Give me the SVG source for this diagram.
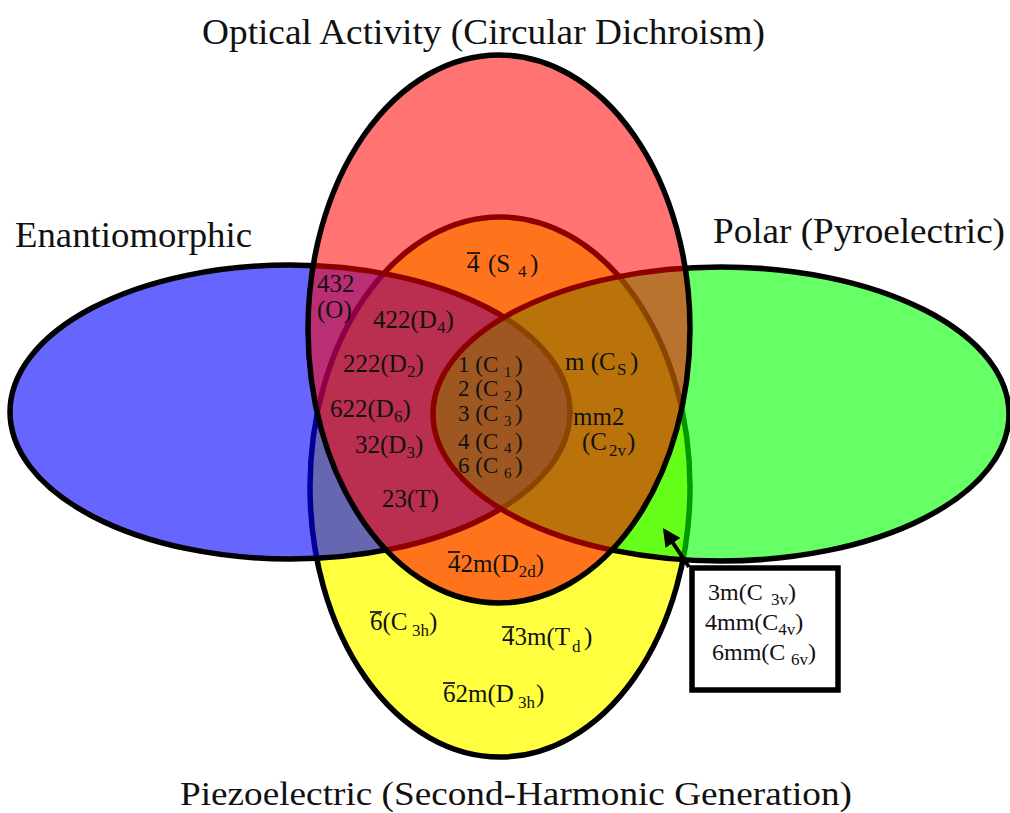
<svg xmlns="http://www.w3.org/2000/svg" width="1010" height="813" viewBox="0 0 1010 813">
<style>
.e{stroke:#000;stroke-width:5.5}
.t{font-family:"Liberation Serif","Times New Roman",serif;font-size:25px;fill:#111}
.c{font-size:23px}
.s{font-size:17px}
.cs{font-size:15px}
.title{font-family:"Liberation Serif","Times New Roman",serif;font-size:35px;fill:#111}
.bar{stroke:#111;stroke-width:1.7}
</style>
<defs>
<marker id="ah" viewBox="0 0 10 10" refX="8" refY="5" markerWidth="4.5" markerHeight="4.5" orient="auto" markerUnits="strokeWidth">
<path d="M0,0 L10,5 L0,10 z" fill="#000"/>
</marker>
</defs>
<rect width="1010" height="813" fill="#fff"/>
<g id="sets">
<g id="piezo"><ellipse class="e" cx="500" cy="487" rx="190" ry="270" fill="#ffff40"/></g>
<g id="enantio"><ellipse class="e" cx="290" cy="412" rx="280" ry="147" fill="#0000ff" fill-opacity="0.6"/></g>
<g id="polar"><ellipse class="e" cx="721" cy="414" rx="288" ry="147" fill="#00ff00" fill-opacity="0.6"/></g>
<g id="optical"><ellipse class="e" cx="499" cy="329" rx="191" ry="274" fill="#ff0000" fill-opacity="0.55"/></g>
</g>
<g id="titles">
<text class="title" x="202" y="44" textLength="563" lengthAdjust="spacingAndGlyphs">Optical Activity (Circular Dichroism)</text>
<text class="title" x="15" y="247" textLength="237" lengthAdjust="spacingAndGlyphs">Enantiomorphic</text>
<text class="title" x="713" y="243" textLength="292" lengthAdjust="spacingAndGlyphs">Polar (Pyroelectric)</text>
<text class="title" x="180" y="805" style="font-size:33px" textLength="672" lengthAdjust="spacingAndGlyphs">Piezoelectric (Second-Harmonic Generation)</text>
</g>
<g id="labels">
<g id="S4"><text class="t" x="467" y="272">4<tspan x="488">(S</tspan><tspan class="s" x="518" dy="5">4</tspan><tspan x="530" dy="-5">)</tspan></text><line class="bar" x1="467" y1="253" x2="480" y2="253"/></g>
<g id="O"><text class="t" x="317" y="292">432</text><text class="t" x="317" y="318">(O)</text></g>
<g id="D4"><text class="t" x="373" y="328">422(D<tspan class="s" dy="5">4</tspan><tspan dy="-5">)</tspan></text></g>
<g id="D2"><text class="t" x="343" y="372">222(D<tspan class="s" dy="5">2</tspan><tspan dy="-5">)</tspan></text></g>
<g id="D6"><text class="t" x="330" y="417">622(D<tspan class="s" dy="5">6</tspan><tspan dy="-5">)</tspan></text></g>
<g id="D3"><text class="t" x="355" y="453">32(D<tspan class="s" dy="5">3</tspan><tspan dy="-5">)</tspan></text></g>
<g id="T"><text class="t" x="382" y="507">23(T)</text></g>
<g id="C1"><text class="t c" x="458" y="372">1 (C<tspan class="cs" x="504" dy="5">1</tspan><tspan x="515" dy="-5">)</tspan></text></g>
<g id="C2"><text class="t c" x="458" y="396">2 (C<tspan class="cs" x="504" dy="5">2</tspan><tspan x="515" dy="-5">)</tspan></text></g>
<g id="C3"><text class="t c" x="458" y="421">3 (C<tspan class="cs" x="504" dy="5">3</tspan><tspan x="515" dy="-5">)</tspan></text></g>
<g id="C4"><text class="t c" x="458" y="449">4 (C<tspan class="cs" x="504" dy="4">4</tspan><tspan x="515" dy="-4">)</tspan></text></g>
<g id="C6"><text class="t c" x="458" y="473">6 (C<tspan class="cs" x="504" dy="5">6</tspan><tspan x="515" dy="-5">)</tspan></text></g>
<g id="Cs"><text class="t" x="565" y="370">m (C<tspan class="s" x="617" dy="5">S</tspan><tspan x="630" dy="-5">)</tspan></text></g>
<g id="C2v"><text class="t" x="573" y="425">mm2</text><text class="t" x="582" y="450">(C<tspan class="s" x="609" dy="6">2v</tspan><tspan x="627" dy="-6">)</tspan></text></g>
<g id="D2d"><text class="t" x="448" y="572">42m(D<tspan class="s" dy="5">2d</tspan><tspan dy="-5">)</tspan></text><line class="bar" x1="448" y1="552" x2="460" y2="552"/></g>
<g id="C3h"><text class="t" x="370" y="630">6(C<tspan class="s" x="412" dy="6">3h</tspan><tspan x="429" dy="-6">)</tspan></text><line class="bar" x1="370" y1="612" x2="382" y2="612"/></g>
<g id="Td"><text class="t" x="502" y="645">43m(T<tspan class="s" x="572" dy="7">d</tspan><tspan x="584" dy="-7">)</tspan></text><line class="bar" x1="502" y1="627" x2="514" y2="627"/></g>
<g id="D3h"><text class="t" x="443" y="702">62m(D<tspan class="s" x="518" dy="6">3h</tspan><tspan x="536" dy="-6">)</tspan></text><line class="bar" x1="443" y1="683" x2="455" y2="683"/></g>
</g>
<g id="polarbox">
<rect x="692" y="568" width="146" height="122" fill="#fff" stroke="#000" stroke-width="5.5"/>
<text class="t" x="708" y="600" style="font-size:24px">3m(C<tspan class="s" x="771" dy="5">3v</tspan><tspan x="788" dy="-5">)</tspan></text>
<text class="t" x="705" y="630" style="font-size:24px">4mm(C<tspan class="s" dy="5">4v</tspan><tspan dy="-5">)</tspan></text>
<text class="t" x="712" y="660" style="font-size:24px">6mm(C<tspan class="s" x="791" dy="5">6v</tspan><tspan x="808" dy="-5">)</tspan></text>
</g>
<g id="connectors">
<line x1="689" y1="567" x2="665" y2="531" stroke="#000" stroke-width="4" marker-end="url(#ah)"/>
</g>
</svg>
